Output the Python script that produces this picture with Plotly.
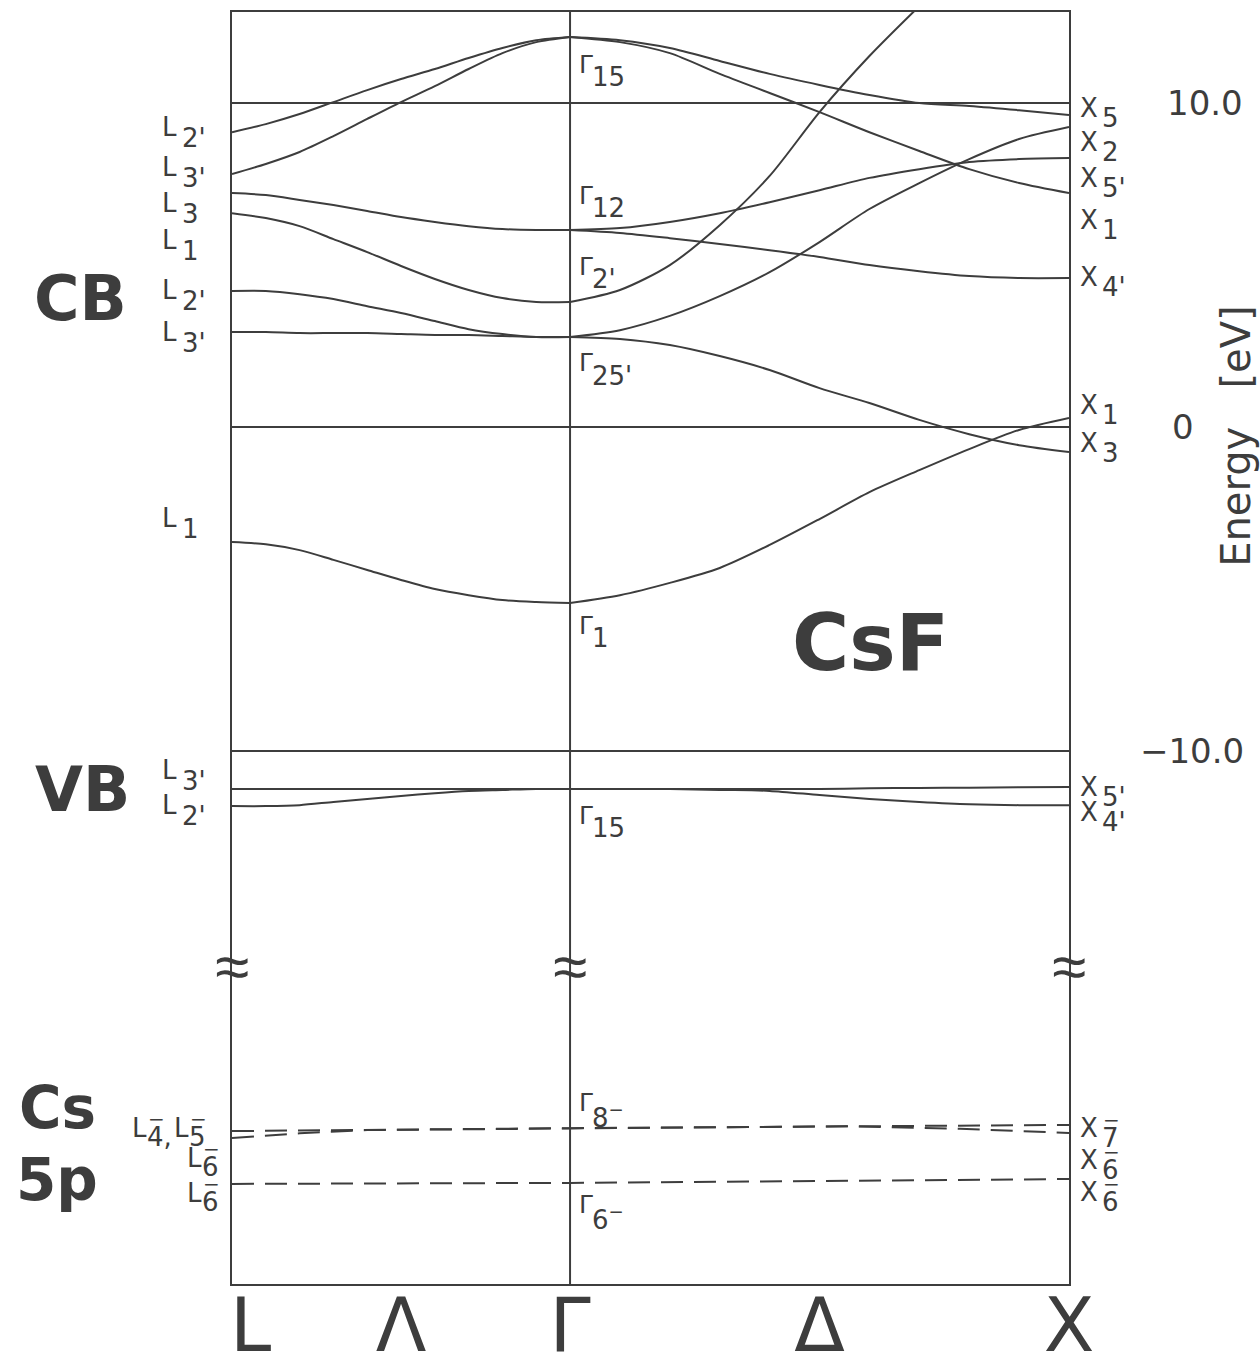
import plotly.graph_objects as go

# ---------------- data (energies in eV) ----------------
K_L, K_G, K_X = 0.0, 1.0, 2.476
N = 10
k_LG = [K_L + i * (K_G - K_L) / N for i in range(N + 1)]
k_GX = [K_G + i * (K_X - K_G) / N for i in range(N + 1)]

# L -> Gamma (conduction + valence bands)
bands_LG = {
    "L2'-G15": [9.10, 9.35, 9.66, 10.03, 10.40, 10.74, 11.05, 11.39, 11.70, 11.94, 12.04],
    "L3'-G15": [7.81, 8.12, 8.49, 8.98, 9.51, 10.03, 10.52, 11.05, 11.54, 11.88, 12.04],
    "L3-G12": [7.22, 7.16, 7.01, 6.85, 6.67, 6.48, 6.33, 6.20, 6.11, 6.08, 6.08],
    "L1-G2'": [6.60, 6.45, 6.20, 5.80, 5.40, 4.97, 4.57, 4.23, 3.98, 3.86, 3.86],
    "L2'-G25'": [4.20, 4.20, 4.10, 3.95, 3.73, 3.52, 3.27, 3.02, 2.87, 2.78, 2.78],
    "L3'-G25'": [2.93, 2.93, 2.90, 2.90, 2.90, 2.87, 2.84, 2.84, 2.81, 2.78, 2.78],
    "L1-G1": [-3.55, -3.62, -3.80, -4.10, -4.41, -4.72, -5.00, -5.19, -5.34, -5.40, -5.43],
    "VB L3'-G15": [-11.17] * 11,
    "VB L2'-G15": [-11.70, -11.70, -11.67, -11.57, -11.48, -11.39, -11.30, -11.23, -11.20, -11.17, -11.17],
}

# Gamma -> X
bands_GX = {
    "G15-X5": [12.04, 11.94, 11.70, 11.30, 10.90, 10.56, 10.25, 10.00, 9.91, 9.78, 9.63],
    "G15-X5'": [12.04, 11.88, 11.54, 10.90, 10.31, 9.72, 9.10, 8.52, 7.96, 7.53, 7.22],
    "G2'-up": [3.86, 4.23, 5.00, 6.23, 7.75, 9.72, 11.45, 12.99],
    "G25'-X2": [2.78, 2.99, 3.43, 4.04, 4.78, 5.71, 6.73, 7.53, 8.27, 8.89, 9.26],
    "G12-X1": [6.08, 6.14, 6.33, 6.60, 6.94, 7.31, 7.69, 7.96, 8.18, 8.27, 8.30],
    "G12-X4'": [6.08, 5.99, 5.83, 5.65, 5.46, 5.25, 5.00, 4.81, 4.66, 4.60, 4.60],
    "G25'-X3": [2.78, 2.72, 2.53, 2.19, 1.76, 1.20, 0.74, 0.22, -0.22, -0.56, -0.77],
    "G1-X1": [-5.43, -5.19, -4.81, -4.35, -3.64, -2.84, -2.01, -1.33, -0.68, -0.09, 0.28],
    "VB G15-X5'": [-11.17, -11.17, -11.17, -11.17, -11.17, -11.17, -11.15, -11.14, -11.13, -11.12, -11.11],
    "VB G15-X4'": [-11.17, -11.17, -11.17, -11.20, -11.23, -11.36, -11.48, -11.57, -11.64, -11.67, -11.67],
}

# Cs 5p core levels (dashed)
cs_k1 = [K_L, K_G, K_X]
cs_e1 = [-21.73, -21.64, -21.54]
cs_k2 = [0.0, 0.2, 0.4, 1.0, 1.828, 2.154, 2.476]
cs_e2 = [-21.94, -21.80, -21.70, -21.64, -21.58, -21.66, -21.79]
cs_k3 = [K_L, K_G, K_X]
cs_e3 = [-23.36, -23.33, -23.21]

grid_vals = [10.0, 0.0, -10.0]
grid_text = ["10.0", "0", "\u221210.0"]
kpoint_vals = [K_L, (K_L + K_G) / 2, K_G, (K_G + K_X) / 2, K_X]
kpoint_text = ["\u2002L", "\u039b", "\u0393", "\u0394", "X"]

# symmetry labels: (main letter, subscript, energy of label)
labels_L = [("L", "2'", 9.26), ("L", "3'", 8.02), ("L", "3", 6.91), ("L", "1", 5.77),
            ("L", "2'", 4.23), ("L", "3'", 2.93), ("L", "1", -2.81),
            ("L", "3'", -10.59), ("L", "2'", -11.67)]
labels_Cs_L = [("L", "4,", -21.64, 130), ("L", "5", -21.64, 172),
               ("L", "6", -22.56, 185), ("L", "6", -23.64, 185)]
labels_G = [("\u0393", "15", 11.20), ("\u0393", "12", 7.16), ("\u0393", "2'", 4.97),
            ("\u0393", "25'", 1.98), ("\u0393", "1", -6.11), ("\u0393", "15", -11.98),
            ("\u0393", "8<sup>\u2212</sup>", -20.86), ("\u0393", "6<sup>\u2212</sup>", -24.01)]
labels_X = [("X", "5", 9.85, False), ("X", "2", 8.80, False), ("X", "5'", 7.69, False),
            ("X", "1", 6.39, False), ("X", "4'", 4.63, False), ("X", "1", 0.68, False),
            ("X", "3", -0.49, False), ("X", "5'", -11.11, False), ("X", "4'", -11.88, False),
            ("X", "7", -21.64, True), ("X", "6", -22.62, True), ("X", "6", -23.61, True)]

# ---------------- figure ----------------
W, H = 1260, 1363
ML, MR, MT, MB = 232, 191, 12, 79
PW = W - ML - MR
INK = "#3d3d3d"
FONT = "DejaVu Sans"
Y_RANGE = [-26.45, 12.81]


def px2paper(px):
    return (px - ML) / PW


fig = go.Figure()
line_style = dict(color=INK, width=2, shape="spline", smoothing=0.8)
for name, e in bands_LG.items():
    fig.add_trace(go.Scatter(x=k_LG[:len(e)], y=e, mode="lines", line=line_style,
                             name=name, hoverinfo="skip"))
for name, e in bands_GX.items():
    fig.add_trace(go.Scatter(x=k_GX[:len(e)], y=e, mode="lines", line=line_style,
                             name=name, hoverinfo="skip"))

dash_style = dict(color=INK, width=2, dash="22px,11px")
for kk, ee, nm in [(cs_k1, cs_e1, "Cs5p a"), (cs_k2, cs_e2, "Cs5p b"), (cs_k3, cs_e3, "Cs5p c")]:
    fig.add_trace(go.Scatter(x=kk, y=ee, mode="lines", line=dash_style, name=nm,
                             hoverinfo="skip"))

# Gamma vertical line
fig.add_shape(type="line", xref="x", yref="paper", x0=K_G, x1=K_G, y0=0, y1=1,
              line=dict(color=INK, width=2), layer="above")

ann = []
SUBF = 26
MAINF = 26


def add_label(main, sub, e, xmain, xsub, ysub, bar=False, mainf=MAINF):
    ann.append(dict(x=px2paper(xmain), y=e, xref="paper", yref="y", text=main,
                    xanchor="left", yanchor="middle", showarrow=False,
                    font=dict(size=mainf, family=FONT, color=INK)))
    ann.append(dict(x=px2paper(xsub), y=e, xref="paper", yref="y", text=sub, yshift=ysub,
                    xanchor="left", yanchor="middle", showarrow=False,
                    font=dict(size=SUBF, family=FONT, color=INK)))
    if bar:
        ann.append(dict(x=px2paper(xsub + 1), y=e, xref="paper", yref="y", text="\u2212",
                        yshift=ysub + 18, xanchor="left", yanchor="middle", showarrow=False,
                        font=dict(size=20, family=FONT, color=INK)))


for main, sub, e in labels_L:
    add_label(main, sub, e, 160, 180, -11)
for main, sub, e, xpx in labels_Cs_L:
    add_label(main, sub, e, xpx, xpx + 15, -9, bar=True)
for main, sub, e in labels_G:
    add_label(main, sub, e, 577, 590, -13, mainf=25)
for main, sub, e, bar in labels_X:
    add_label(main, sub, e, 1078, 1100, -10, bar=bar)

# right-side energy tick labels
for v, t, xpx in zip(grid_vals, grid_text, [1205, 1183, 1192]):
    ann.append(dict(x=px2paper(xpx), y=v, xref="paper", yref="y", text=t,
                    xanchor="center", yanchor="middle", showarrow=False,
                    font=dict(size=34, family=FONT, color=INK)))
ann.append(dict(x=px2paper(1236), y=-0.3, xref="paper", yref="y", text="Energy   [eV]",
                textangle=-90, xanchor="center", yanchor="middle", showarrow=False,
                font=dict(size=40, family=FONT, color=INK)))

# big region labels
for txt, xpx, e, fs in [("CB", 80, 3.98, 62), ("VB", 82, -11.20, 62),
                        ("Cs", 57, -21.02, 58), ("5p", 57, -23.24, 58),
                        ("CsF", 870, -6.67, 78)]:
    ann.append(dict(x=px2paper(xpx), y=e, xref="paper", yref="y", text="<b>%s</b>" % txt,
                    xanchor="center", yanchor="middle", showarrow=False,
                    font=dict(size=fs, family=FONT, color=INK)))

# axis-break marks
for kx in [K_L, K_G, K_X]:
    ann.append(dict(x=kx, y=-16.64, xref="x", yref="y", text="\u2248",
                    xanchor="center", yanchor="middle", showarrow=False,
                    font=dict(size=62, family="Liberation Sans", color=INK)))

fig.update_layout(
    width=W, height=H,
    margin=dict(l=ML, r=MR, t=MT, b=MB, autoexpand=False),
    paper_bgcolor="white", plot_bgcolor="white",
    showlegend=False,
    annotations=ann,
    xaxis=dict(range=[K_L, K_X], tickvals=kpoint_vals, ticktext=kpoint_text,
               showgrid=False, zeroline=False, ticks="", automargin=False,
               ticklabelstandoff=-24,
               showline=True, mirror=True, linecolor=INK, linewidth=2,
               tickfont=dict(size=74, family=FONT, color=INK)),
    yaxis=dict(range=Y_RANGE, tickvals=grid_vals, showticklabels=False, automargin=False,
               showgrid=True, gridcolor=INK, gridwidth=2, zeroline=False, ticks="",
               showline=True, mirror=True, linecolor=INK, linewidth=2),
)

fig.write_html("out.html")
